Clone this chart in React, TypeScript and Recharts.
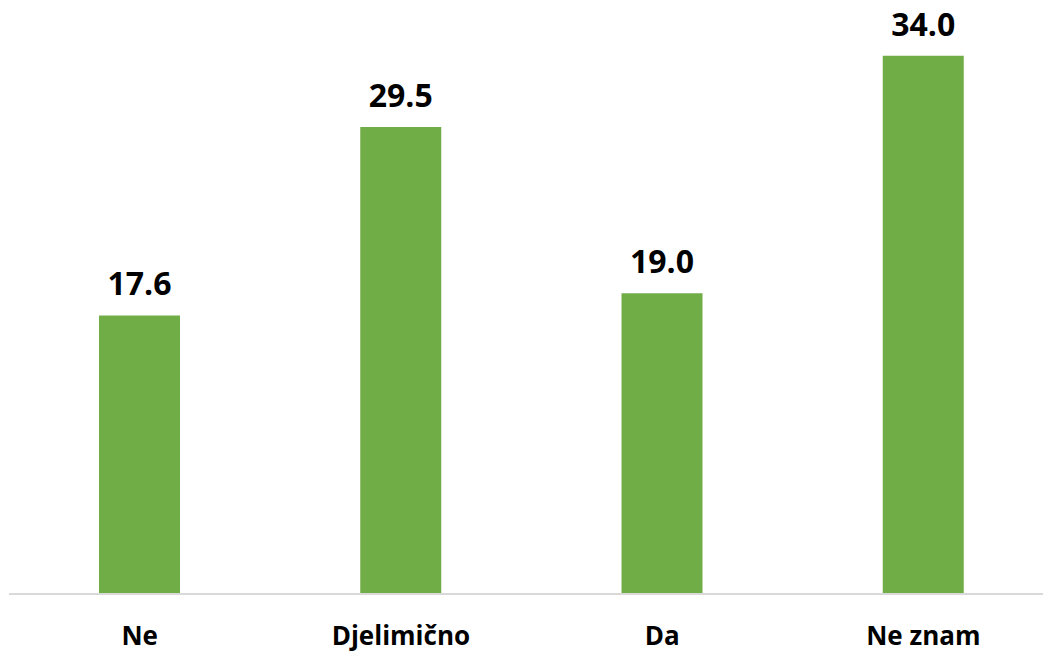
// @ts-nocheck
import { BarChart, Bar, XAxis, YAxis, LabelList } from 'recharts';
import type { ReactElement } from 'react';

const categories = ['Ne', 'Djelimično', 'Da', 'Ne znam'];
const values = [17.6, 29.5, 19.0, 34.0];

const BAR_COLOR = '#70AD47';
const FONT = '"Open Sans", "Noto Sans", sans-serif';

const chartData = categories.map((name, i) => ({ name, value: values[i] }));

export default function App(): ReactElement {
  return (
    <div style={{ position: 'absolute', left: 0, top: 0, width: 1043, height: 652, overflow: 'hidden', background: '#fff' }}>
      <BarChart
        width={1054}
        height={652}
        data={chartData}
        margin={{ top: 40, right: 0, bottom: 0, left: 9 }}
        barCategoryGap={0}
      >
        <XAxis
          dataKey="name"
          height={58}
          tickLine={false}
          tickSize={0}
          tickMargin={33}
          axisLine={{ stroke: '#D9D9D9', strokeWidth: 2 }}
          tick={{ fill: '#000', fontSize: 26, fontWeight: 700, fontFamily: FONT }}
          interval={0}
        />
        <YAxis hide domain={[0, 35]} />
        <Bar dataKey="value" fill={BAR_COLOR} barSize={81} isAnimationActive={false}>
          <LabelList
            dataKey="value"
            position="top"
            offset={20}
            formatter={(v) => Number(v).toFixed(1)}
            style={{ fill: '#000', fontSize: 32, fontWeight: 700, fontFamily: FONT }}
          />
        </Bar>
      </BarChart>
    </div>
  );
}
